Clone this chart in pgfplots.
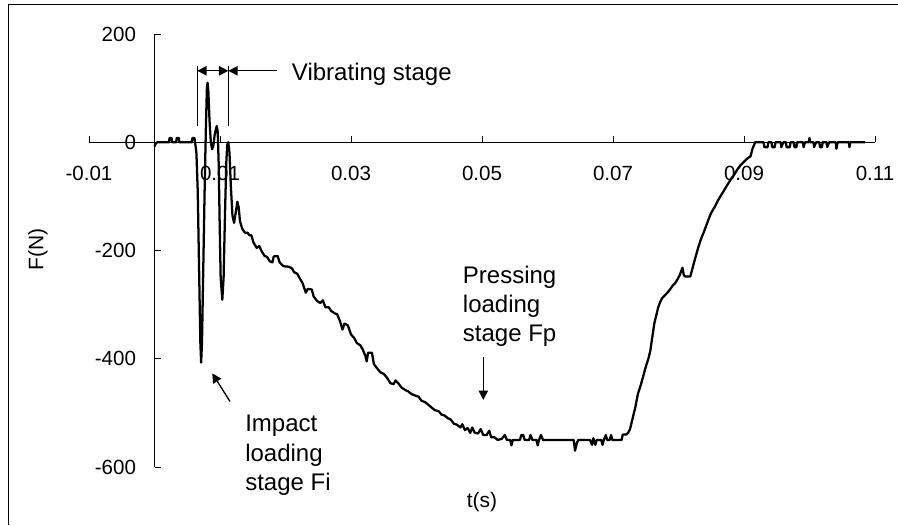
\documentclass[border=0pt]{standalone}
\usepackage{pgfplots}
\pgfplotsset{compat=1.18}
\usepackage{fontspec}
\setmainfont{Liberation Sans}
\usetikzlibrary{arrows.meta}

\begin{document}
\begin{tikzpicture}
\useasboundingbox (0,0) rectangle (673.5pt,393.75pt);
\draw[line width=0.75pt] (6pt,0pt) -- (6pt,390pt) -- (673.5pt,390pt);
\begin{axis}[
  at={(66.75pt,43.5pt)}, anchor=south west,
  scale only axis, width=589.5pt, height=324.75pt,
  xmin=-0.01, xmax=0.11, ymin=-600, ymax=200,
  axis x line=middle, axis y line=middle,
  axis line style={-, line width=0.75pt},
  xtick={-0.01,0.01,0.03,0.05,0.07,0.09,0.11},
  xticklabels={-0.01,0.01,0.03,0.05,0.07,0.09,0.11},
  ytick={-600,-400,-200,0,200},
  yticklabels={-600,-400,-200,0,200},
  hide obscured x ticks=false, hide obscured y ticks=false,
  major tick length=4.5pt,
  tick align=inside,
  tick style={line width=0.75pt, black},
  xticklabel style={font=\fontsize{15.4}{18}\selectfont, anchor=base, yshift=-29pt, inner sep=0pt},
  yticklabel style={font=\fontsize{15.4}{18}\selectfont, anchor=east, xshift=-13.7pt, inner sep=0pt},
  clip=false,
]
\addplot[black, line width=1.7pt, line join=round] coordinates {
(0.0000,-8)(0.0002,-2)(0.0004,0)(0.0022,0)(0.0023,8)(0.0026,8)(0.0027,0)
(0.0033,0)(0.0034,8)(0.0037,8)(0.0038,0)(0.0057,0)(0.0058,8)(0.0061,8)(0.0062,0)
(0.00640,-20)(0.00660,-90)(0.00680,-230)(0.00700,-370)(0.00712,-407)(0.00725,-370)
(0.00745,-230)(0.00765,-90)(0.00785,30)(0.00800,100)(0.00810,110)(0.00822,95)
(0.00840,40)(0.00860,0)(0.00880,-13)(0.00900,-5)(0.00920,15)(0.00950,30)(0.00965,20)
(0.00980,-40)(0.00995,-150)(0.01010,-250)(0.01035,-291)(0.01055,-250)(0.01075,-140)
(0.01095,-40)(0.01110,-5)(0.01127,0)(0.01145,-20)(0.01165,-80)(0.01190,-135)
(0.01215,-149)(0.01240,-130)(0.01265,-110)(0.01285,-120)(0.01305,-146)(0.01340,-160)
(0.01380,-167)(0.01420,-167)(0.01450,-172)(0.01480,-172)(0.01510,-185)(0.01560,-195)
(0.0160,-192)(0.0163,-200)(0.0168,-210)(0.0172,-212)(0.0176,-220)(0.0180,-222)
(0.0182,-211)(0.0188,-210)(0.0191,-222)(0.0197,-229)(0.0205,-230)(0.0210,-233)
(0.0213,-240)(0.0218,-243)(0.0222,-252)(0.0226,-260)(0.0231,-278)(0.0234,-271)
(0.0240,-272)(0.0243,-285)(0.0248,-293)(0.0253,-297)(0.0257,-292)(0.0261,-305)
(0.0266,-305)(0.0270,-312)(0.0275,-316)(0.0279,-318)(0.0283,-330)(0.0287,-346)
(0.0290,-335)(0.0295,-338)(0.0300,-355)(0.0305,-362)(0.0309,-371)(0.0314,-375)
(0.0318,-383)(0.0322,-395)(0.0324,-405)(0.0326,-389)(0.0332,-389)(0.0335,-410)
(0.0340,-418)(0.0345,-425)(0.0350,-428)(0.0355,-435)(0.0360,-445)(0.0365,-447)
(0.0368,-440)(0.0372,-445)(0.0377,-453)(0.0383,-458)(0.0387,-460)(0.0392,-465)
(0.0398,-468)(0.0403,-470)(0.0408,-478)(0.0413,-480)(0.0418,-485)(0.0423,-490)
(0.0428,-495)(0.0434,-497)(0.0438,-503)(0.0443,-505)(0.0448,-510)(0.0452,-512)
(0.0457,-520)(0.0462,-522)(0.0467,-527)(0.0470,-521)(0.0474,-532)(0.0478,-528)
(0.0482,-537)(0.0485,-527)(0.0489,-537)(0.0494,-538)(0.0498,-530)(0.0502,-541)
(0.0507,-541)(0.0511,-533)(0.0514,-545)(0.0519,-545)(0.0524,-550)
(0.0530,-548)(0.0535,-541)(0.0538,-550)(0.0543,-550)(0.0545,-560)(0.0547,-550)
(0.0558,-550)(0.0560,-541)(0.0563,-541)(0.0565,-550)(0.0572,-550)(0.0574,-541)
(0.0577,-550)(0.0583,-550)(0.0585,-560)(0.0587,-550)(0.0590,-541)(0.0593,-550)
(0.0640,-550)(0.0642,-570)(0.0645,-555)(0.0647,-550)(0.0665,-550)(0.0668,-559)
(0.0670,-547)(0.0673,-559)(0.0675,-550)(0.0682,-550)(0.0684,-559)(0.0686,-550)
(0.0689,-541)(0.0691,-550)(0.0695,-550)(0.0697,-541)(0.0699,-550)(0.0713,-550)
(0.0715,-540)(0.0720,-540)(0.0723,-537)(0.0726,-530)
(0.0730,-510)(0.0734,-490)(0.0738,-465)(0.0742,-450)(0.0746,-433)(0.0750,-415)
(0.0754,-400)(0.0757,-385)(0.0760,-360)(0.0763,-335)(0.0766,-320)(0.0769,-305)
(0.0772,-295)(0.0775,-288)(0.0779,-283)(0.0783,-278)(0.0787,-272)(0.0791,-265)
(0.0795,-260)(0.0799,-252)(0.0802,-245)(0.0806,-232)(0.0808,-245)(0.0810,-248)
(0.0818,-248)(0.0822,-230)(0.0826,-212)(0.0830,-195)(0.0834,-180)(0.0838,-168)
(0.0842,-155)(0.0846,-142)(0.0850,-130)(0.0855,-120)(0.0860,-108)(0.0865,-98)
(0.0870,-88)(0.0875,-78)(0.0880,-68)(0.0885,-60)(0.0890,-50)(0.0895,-42)
(0.0900,-36)(0.0905,-30)(0.0910,-26)(0.0913,-12)(0.0917,0)
(0.0930,0)(0.0931,-9)(0.0936,-9)(0.0937,0)(0.0942,0)(0.0943,-9)(0.0947,-9)(0.0948,0)
(0.0956,0)(0.0957,-9)(0.0960,0)(0.0964,0)(0.0965,-9)(0.0970,-9)(0.0971,0)
(0.0976,0)(0.0977,-9)(0.0980,-9)(0.0981,0)(0.0990,0)(0.0991,-9)(0.0993,0)
(0.0999,0)(0.1000,8)(0.1001,0)(0.1006,0)(0.1007,-9)(0.1010,0)(0.1015,0)
(0.1016,-9)(0.1019,-9)(0.1020,0)(0.1026,0)(0.1027,-9)(0.1030,0)(0.1040,0)
(0.1041,-12)(0.1043,0)(0.1060,0)(0.1061,-9)(0.1062,0)(0.1085,0)
};
% axis labels
\node[font=\fontsize{15.75}{18}\selectfont] at (axis cs:0.05,-665) {t(s)};
\node[rotate=90, font=\fontsize{15.75}{18}\selectfont] at (axis cs:-0.0178,-198) {F(N)};
% vibrating stage
\draw[line width=0.9pt] (axis cs:0.00653,141) -- (axis cs:0.00653,30);
\draw[line width=0.9pt] (axis cs:0.01127,141) -- (axis cs:0.01127,30);
\draw[{Triangle[length=7pt,width=7pt]}-{Triangle[length=7pt,width=7pt]}, line width=1pt] (axis cs:0.00653,132) -- (axis cs:0.01127,132);
\draw[-{Triangle[length=7pt,width=7pt]}, line width=1pt] (axis cs:0.01866,132) -- (axis cs:0.01127,132);
\node[anchor=base west, inner sep=0pt, font=\fontsize{18}{21.4}\selectfont] at (axis cs:0.02095,113.5) {Vibrating stage};
% impact
\draw[-{Triangle[length=7pt,width=7pt]}, line width=1pt] (axis cs:0.01153,-479) -- (axis cs:0.00882,-427);
\node[anchor=base west, inner sep=0pt, font=\fontsize{18}{21.4}\selectfont] at (axis cs:0.01382,-534.6) {Impact};
\node[anchor=base west, inner sep=0pt, font=\fontsize{18}{21.4}\selectfont] at (axis cs:0.01382,-590.2) {loading};
\node[anchor=base west, inner sep=0pt, font=\fontsize{18}{21.4}\selectfont] at (axis cs:0.01382,-642.6) {stage Fi};
% pressing
\node[anchor=base west, inner sep=0pt, font=\fontsize{18}{21.4}\selectfont] at (axis cs:0.04705,-261) {Pressing};
\node[anchor=base west, inner sep=0pt, font=\fontsize{18}{21.4}\selectfont] at (axis cs:0.04705,-315.4) {loading};
\node[anchor=base west, inner sep=0pt, font=\fontsize{18}{21.4}\selectfont] at (axis cs:0.04705,-368) {stage Fp};
\draw[-{Triangle[length=7pt,width=7pt]}, line width=1pt] (axis cs:0.0502,-396) -- (axis cs:0.0502,-476);
\end{axis}
\end{tikzpicture}
\end{document}
